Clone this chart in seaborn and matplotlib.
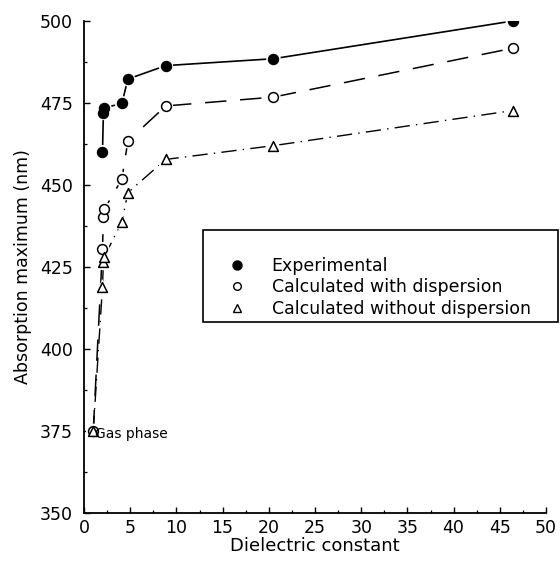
import matplotlib
matplotlib.use("Agg")
import matplotlib.pyplot as plt
import seaborn as sns
import pandas as pd
from matplotlib.lines import Line2D
from matplotlib.ticker import MultipleLocator

sns.set_theme(style="ticks")
plt.rcParams['font.family'] = ['DejaVu Sans']
plt.rcParams['text.color'] = 'black'
plt.rcParams['axes.labelcolor'] = 'black'
plt.rcParams['xtick.color'] = 'black'
plt.rcParams['ytick.color'] = 'black'

# ---- data ----
solvent_eps = [2.0, 2.1, 2.2, 4.1, 4.75, 8.85, 20.5, 46.4]
experimental = [460.0, 472.0, 473.5, 474.9, 482.3, 486.4, 488.5, 500.0]

calc_eps = [1.0, 2.0, 2.1, 2.2, 4.1, 4.75, 8.85, 20.5, 46.4]
with_disp = [375.0, 430.4, 440.3, 442.6, 451.8, 463.4, 474.1, 476.8, 491.7]
without_disp = [375.0, 419.0, 426.4, 428.1, 438.8, 447.7, 457.8, 462.0, 472.7]

labels = ["Experimental", "Calculated with dispersion", "Calculated without dispersion"]

df_exp = pd.DataFrame({"eps": solvent_eps, "lam": experimental})
df_wd = pd.DataFrame({"eps": calc_eps, "lam": with_disp})
df_nd = pd.DataFrame({"eps": calc_eps, "lam": without_disp})

fig = plt.figure(figsize=(5.6, 5.63), dpi=100)
ax = fig.add_axes([84/560, 1-513/563, (546-84)/560, (513-21)/563])

# lines
sns.lineplot(data=df_exp, x="eps", y="lam", sort=False, estimator=None, ax=ax,
             color="black", linewidth=1.2, linestyle="-", zorder=2)
sns.lineplot(data=df_wd, x="eps", y="lam", sort=False, estimator=None, ax=ax,
             color="black", linewidth=1.1, linestyle=(0, (14, 9)), zorder=2)
sns.lineplot(data=df_nd, x="eps", y="lam", sort=False, estimator=None, ax=ax,
             color="black", linewidth=1.0, linestyle=(0, (11, 4.5, 1, 4.5)), zorder=2)

# white halos to create gaps around markers
for d, m, s in [(df_exp, "o", 110), (df_wd, "o", 110), (df_nd, "^", 120)]:
    sns.scatterplot(data=d, x="eps", y="lam", marker=m, s=s, color="white",
                    edgecolor="none", ax=ax, zorder=3, legend=False)

# markers
sns.scatterplot(data=df_exp, x="eps", y="lam", marker="o", s=55, color="black",
                edgecolor="black", linewidth=0.8, ax=ax, zorder=4, legend=False)
sns.scatterplot(data=df_wd, x="eps", y="lam", marker="o", s=50, facecolor="white",
                edgecolor="black", linewidth=1.1, ax=ax, zorder=4, legend=False)
sns.scatterplot(data=df_nd, x="eps", y="lam", marker="^", s=50, facecolor="white",
                edgecolor="black", linewidth=1.1, ax=ax, zorder=4, legend=False)

ax.text(1.2, 374.0, "Gas phase", fontsize=10, va="center", ha="left", zorder=5)

ax.set_xlim(0, 50)
ax.set_ylim(350, 500)
ax.xaxis.set_major_locator(MultipleLocator(5))
ax.xaxis.set_minor_locator(MultipleLocator(2.5))
ax.yaxis.set_major_locator(MultipleLocator(25))
ax.yaxis.set_minor_locator(MultipleLocator(12.5))
ax.tick_params(axis="both", which="major", direction="in", length=4, width=1.0,
               labelsize=12.5, color="black", labelcolor="black")
ax.tick_params(axis="both", which="minor", direction="in", length=2.5, width=0.9,
               color="black")
ax.tick_params(axis="y", which="major", pad=8)
ax.tick_params(axis="x", which="major", pad=4)

for sp in ["top", "right"]:
    ax.spines[sp].set_visible(False)
for sp in ["left", "bottom"]:
    ax.spines[sp].set_linewidth(1.3)
    ax.spines[sp].set_color("black")

ax.set_xlabel("Dielectric constant", fontsize=13, labelpad=0)
ax.set_ylabel("Absorption maximum (nm)", fontsize=12.5, labelpad=6)

handles = [
    Line2D([], [], marker="o", linestyle="none", markersize=6.5,
           markerfacecolor="black", markeredgecolor="black"),
    Line2D([], [], marker="o", linestyle="none", markersize=5.5,
           markerfacecolor="white", markeredgecolor="black", markeredgewidth=1.0),
    Line2D([], [], marker="^", linestyle="none", markersize=5.5,
           markerfacecolor="white", markeredgecolor="black", markeredgewidth=1.0),
]
leg = fig.legend(handles, labels, loc="upper left",
                 bbox_to_anchor=(203/560, 1-230/563, 355/560, 0.0),
                 mode="expand", fontsize=12.5, frameon=True, fancybox=False,
                 borderaxespad=0, borderpad=0.25, handlelength=3.4,
                 handletextpad=0.3, labelspacing=0.2, edgecolor="black",
                 title=" ", title_fontsize=13.5)
leg.get_frame().set_linewidth(1.2)
leg.get_frame().set_facecolor("white")
leg.get_frame().set_alpha(1)

fig.savefig("out.png", dpi=100, facecolor="white")
